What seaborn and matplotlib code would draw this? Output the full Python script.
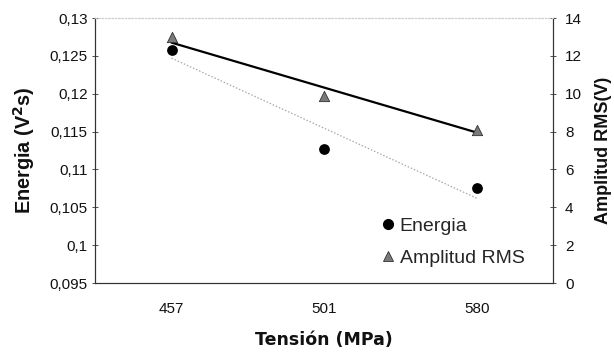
import numpy as np
import pandas as pd
import matplotlib
matplotlib.use("Agg")
import matplotlib.pyplot as plt
import seaborn as sns
from matplotlib.lines import Line2D

# ---- data ----
tension = ["457", "501", "580"]
energia = [0.1258, 0.1127, 0.1076]
amplitud = [13.0, 9.9, 8.1]
# trend lines (values at the first and last tension)
energia_tendencia = [0.1247, 0.1062]
amplitud_tendencia = [12.7, 7.95]

energia_ticks = [0.095, 0.1, 0.105, 0.11, 0.115, 0.12, 0.125, 0.13]
energia_ticklabels = ["0,095", "0,1", "0,105", "0,11", "0,115", "0,12", "0,125", "0,13"]
amplitud_ticks = [0, 2, 4, 6, 8, 10, 12, 14]

sns.set_theme(style="white")
plt.rcParams["font.family"] = ["Liberation Sans", "DejaVu Sans"]

pos = np.arange(len(tension))
df = pd.DataFrame({"pos": pos, "tension": tension, "energia": energia, "amplitud": amplitud})

fig = plt.figure(figsize=(6.14, 3.53), dpi=100)
ax = fig.add_axes([0.155, 0.198, 0.746, 0.751])
ax2 = ax.twinx()

# trend lines
ax2.plot([pos[0], pos[-1]], amplitud_tendencia, color="black", lw=1.6, zorder=2)
ax.plot([pos[0], pos[-1]], energia_tendencia, color="#a8a8a8", lw=0.9, ls=(0, (1.2, 1.5)), zorder=2)

sns.scatterplot(data=df, x="pos", y="energia", ax=ax, marker="o", s=60,
                color="black", edgecolor="black", linewidth=0, zorder=3, legend=False)
sns.scatterplot(data=df, x="pos", y="amplitud", ax=ax2, marker="^", s=55,
                color="#7a7a7a", edgecolor="#303030", linewidth=0.6, zorder=3, legend=False)

ax.set_xlim(-0.5, len(tension) - 0.5)
ax.set_ylim(0.095, 0.13)
ax2.set_ylim(0, 14)

ax.set_xticks(pos)
ax.set_xticklabels(tension)
ax.set_xticks(np.arange(-0.5, len(tension), 0.5), minor=True)
ax.set_yticks(energia_ticks)
ax.set_yticklabels(energia_ticklabels)
ax2.set_yticks(amplitud_ticks)
ax2.set_yticklabels([str(t) for t in amplitud_ticks])

for a in (ax, ax2):
    a.tick_params(axis="both", which="both", direction="inout", length=5, width=0.6,
                  color="#333333", labelsize=11, labelcolor="#111111", pad=4)
ax.tick_params(axis="x", which="major", pad=11)
ax.tick_params(axis="y", pad=3)
ax2.tick_params(axis="y", pad=6)

for a in (ax, ax2):
    for side in ["left", "right", "bottom"]:
        a.spines[side].set_color("#333333")
        a.spines[side].set_linewidth(0.8)
    a.spines["top"].set_color("#cccccc")
    a.spines["top"].set_linestyle((0, (1, 2)))
    a.spines["top"].set_linewidth(0.8)

ax.set_xlabel("Tensión (MPa)", fontsize=12.5, fontweight="bold", labelpad=11,
              color="#111111", family=["DejaVu Sans"])
ax.set_ylabel("Energia (V$^{\\mathbf{2}}$s)", fontsize=14.3, fontweight="bold", labelpad=9, color="#111111")
ax2.set_ylabel("Amplitud RMS(V)", fontsize=13, fontweight="bold", labelpad=9, color="#111111")

handles = [
    Line2D([], [], marker="o", ls="", color="black", markersize=7),
    Line2D([], [], marker="^", ls="", color="#7a7a7a", markeredgecolor="#303030",
           markeredgewidth=0.6, markersize=6.5),
]
ax2.legend(handles, ["Energia", "Amplitud RMS"], loc="center left",
           bbox_to_anchor=(0.614, 0.155), frameon=False, fontsize=14,
           borderaxespad=0, borderpad=0,
           handletextpad=0.0, handlelength=1.2, labelspacing=0.75)

fig.savefig("out.png", dpi=100)
